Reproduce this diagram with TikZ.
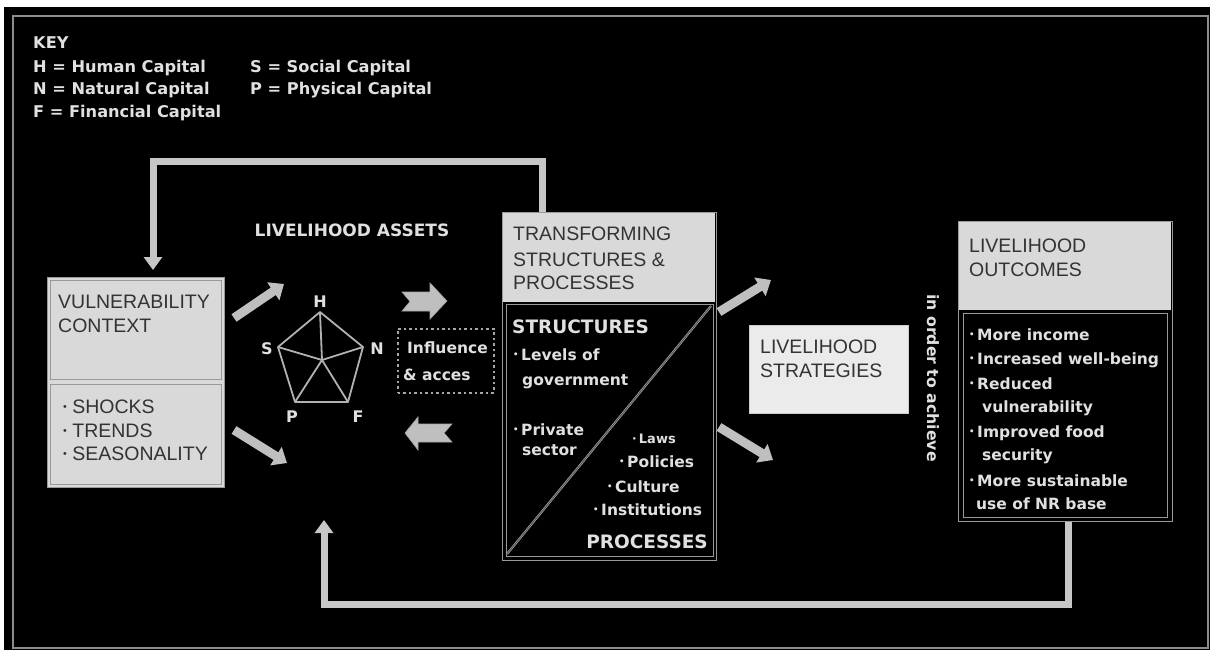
\documentclass[tikz,border=0pt]{standalone}
\usepackage{fontspec}
\setmainfont{Liberation Sans}
\newfontfamily\embfont{DejaVu Sans}
\usetikzlibrary{arrows.meta,positioning,calc}
\newcommand{\bul}{\raisebox{0.25ex}{\scalebox{0.55}{\textbullet}}}

\begin{document}
\begin{tikzpicture}[x=1pt,y=-1pt,
 hdrtxt/.style={anchor=base west,inner sep=0pt,text=black!80,font=\fontsize{19.5}{24}\selectfont},
 wtxt/.style={anchor=base west,inner sep=0pt,text=white!88!black,font=\embfont\bfseries\fontsize{15.5}{18}\selectfont},
 keytxt/.style={wtxt,font=\embfont\bfseries\fontsize{16.2}{19}\selectfont},
 bigtxt/.style={wtxt,font=\embfont\bfseries\fontsize{18.5}{22}\selectfont},
 boxline/.style={draw=black!40,line width=1.2pt,anchor=north west,inner sep=0pt},
 innerline/.style={draw=black!40,line width=0.8pt},
 feedback/.style={draw=black!22,line width=7pt,-{Triangle[width=18pt,length=13pt]}},
 blockarrow/.style={draw=black!25,line width=9pt,-{Triangle[width=21pt,length=13pt]}},
 blockshape/.style={fill=black!25,draw=black!35,line width=0.6pt},
 spoke/.style={draw=black!30,line width=1.8pt,line join=round}]

 \useasboundingbox (0,0) rectangle (1212,653);
 \fill[white] (0,0) rectangle (1212,653);
 \fill[black] (4,7) rectangle (1210,650);
 \draw[black!45,line width=1.5pt] (13,16) rectangle (1208,648);

 % key
 \node[keytxt] (key) at (33,48) {KEY};
 \node[keytxt] (keyh) at (33,72) {H = Human Capital};
 \node[keytxt] (keyn) at (33,94) {N = Natural Capital};
 \node[keytxt] (keyf) at (33,117) {F = Financial Capital};
 \node[keytxt] (keys) at (250,72) {S = Social Capital};
 \node[keytxt] (keyp) at (250,94) {P = Physical Capital};

 % boxes
 \node[boxline,fill=black!15,minimum width=177pt,minimum height=210pt] (vul) at (47,277) {};
 \draw[innerline] (50,280) rectangle (221,379);
 \draw[innerline] (50,384) rectangle (221,484);

 \node[boxline,fill=black,minimum width=214pt,minimum height=348pt] (trans) at (502,212) {};
 \fill[black!15] (503,213) rectangle (715,302);
 \draw[innerline] (506,304) rectangle (713,556);
 \draw[draw=black!35,double=black!70,double distance=0.8pt,line width=0.7pt] (507,554) -- (711,306);

 \node[draw=black!20,fill=black!8,anchor=north west,inner sep=0pt,minimum width=159pt,minimum height=88pt] (strat) at (749,325) {};

 \node[boxline,fill=black,minimum width=214pt,minimum height=300pt] (out) at (958,221) {};
 \fill[black!15] (959,222) rectangle (1171,310);
 \draw[innerline] (963,313) rectangle (1167,517);

 \node[draw=black!35,line width=1.5pt,dash pattern=on 2.5pt off 3pt,anchor=north west,inner sep=0pt,minimum width=96pt,minimum height=64pt] (inf) at (397,328) {};

 % box texts
 \node[hdrtxt] (vult1) at (58,308) {VULNERABILITY};
 \node[hdrtxt] (vult2) at (58,332) {CONTEXT};
 \foreach \t/\y in {SHOCKS/413,TRENDS/437,SEASONALITY/460}
   \node[hdrtxt] (vb\y) at (63,\y) {\bul\ \t};

 \node[hdrtxt] (trt1) at (513,240) {TRANSFORMING};
 \node[hdrtxt] (trt2) at (513,266) {STRUCTURES \&};
 \node[hdrtxt] (trt3) at (513,289) {PROCESSES};
 \node[bigtxt] (struct) at (512,333) {STRUCTURES};
 \node[wtxt] (tlev) at (513,360) {\bul\,Levels of};
 \node[wtxt] (tgov) at (522,385) {government};
 \node[wtxt] (tpri) at (513,435) {\bul\,Private};
 \node[wtxt] (tsec) at (522,455) {sector};
 \node[wtxt,font=\embfont\bfseries\fontsize{13}{16}\selectfont] (tlaw) at (632,443) {\bul\,Laws};
 \node[wtxt] (tpol) at (619,467) {\bul\,Policies};
 \node[wtxt] (tcul) at (607,492) {\bul\,Culture};
 \node[wtxt] (tins) at (593,515) {\bul\,Institutions};
 \node[bigtxt,anchor=base east] (proc) at (708,548) {PROCESSES};

 \node[hdrtxt] (stt1) at (760,353) {LIVELIHOOD};
 \node[hdrtxt] (stt2) at (760,377) {STRATEGIES};

 \node[hdrtxt] (out1) at (969,252) {LIVELIHOOD};
 \node[hdrtxt] (out2) at (969,276) {OUTCOMES};
 \foreach \x/\y/\t in {969/340/\bul\,More income,969/364/\bul\,Increased well-being,
   969/389/\bul\,Reduced,982/412/vulnerability,969/437/\bul\,Improved food,
   982/460/security,969/486/\bul\,More sustainable,976/509/use of NR base}
   \node[wtxt] (oc\y) at (\x,\y) {\t};

 \node[wtxt,rotate=-90,anchor=center,font=\embfont\bfseries\fontsize{15.7}{18}\selectfont] (achieve) at (933,378) {in order to achieve};

 \node[wtxt] (inf1) at (407,353) {Influence};
 \node[wtxt] (inf2) at (403,380) {\& acces};

 % assets pentagon
 \node[wtxt,anchor=base,font=\embfont\bfseries\fontsize{17}{20}\selectfont] (assets) at (352,236) {LIVELIHOOD ASSETS};
 \coordinate (ph) at (320,312);
 \coordinate (pn) at (363,347);
 \coordinate (pf) at (348,402);
 \coordinate (pp) at (295,402);
 \coordinate (ps) at (278,347);
 \coordinate (pc) at (322,360);
 \draw[spoke] (ph) -- (pn) -- (pf) -- (pp) -- (ps) -- cycle;
 \foreach \v in {ph,pn,pf,pp,ps}
   \draw[spoke] (pc) -- (\v);
 \node[wtxt,anchor=center,font=\embfont\bfseries\fontsize{16}{18}\selectfont] (lh) at (320,302) {H};
 \node[wtxt,anchor=center,font=\embfont\bfseries\fontsize{16}{18}\selectfont] (ls) at (267,349) {S};
 \node[wtxt,anchor=center,font=\embfont\bfseries\fontsize{16}{18}\selectfont] (ln) at (377,349) {N};
 \node[wtxt,anchor=center,font=\embfont\bfseries\fontsize{16}{18}\selectfont] (lp) at (292,417) {P};
 \node[wtxt,anchor=center,font=\embfont\bfseries\fontsize{16}{18}\selectfont] (lf) at (358,417) {F};

 % block arrows
 \coordinate (a1s) at (234,318); \coordinate (a1e) at (284,284);
 \coordinate (a2s) at (234,430); \coordinate (a2e) at (287,463);
 \coordinate (a3s) at (719,312); \coordinate (a3e) at (771,280);
 \coordinate (a4s) at (719,427); \coordinate (a4e) at (773,460);
 \draw[blockarrow] (a1s) -- (a1e);
 \draw[blockarrow] (a2s) -- (a2e);
 \draw[blockarrow] (a3s) -- (a3e);
 \draw[blockarrow] (a4s) -- (a4e);
 \filldraw[blockshape] (402,292) -- (430,292) -- (430,283) -- (447,301) -- (430,319) -- (430,311) -- (402,311) -- (410,301.5) -- cycle;
 \filldraw[blockshape] (405,433) -- (418,417) -- (418,424) -- (452,424) -- (444,433) -- (452,442) -- (418,442) -- (418,450) -- cycle;

 % feedback loops
 \coordinate (fbtr) at (542,161);
 \coordinate (fbtl) at (153,161);
 \coordinate (vtip) at (153,270);
 \draw[feedback] (fbtr |- trans.north) -- (fbtr) -- (fbtl) -- (vtip);
 \coordinate (fbbr) at (1068,604);
 \coordinate (fbbl) at (324,604);
 \coordinate (atip) at (324,520);
 \draw[feedback] (fbbr |- out.south) -- (fbbr) -- (fbbl) -- (atip);
\end{tikzpicture}
\end{document}
